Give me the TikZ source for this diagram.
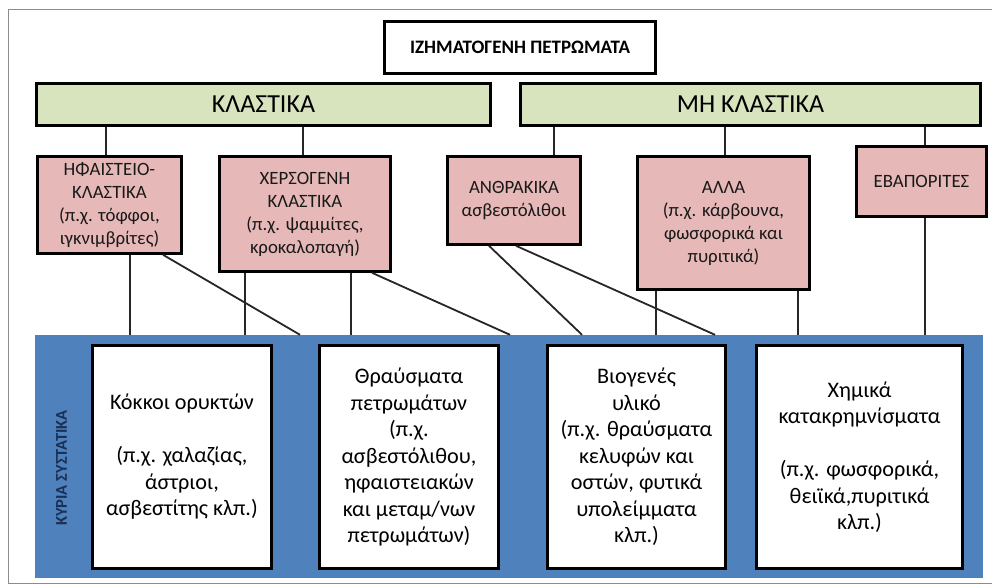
\documentclass[tikz,border=0pt]{standalone}
\usepackage{fontspec}
\setmainfont{Carlito}
\definecolor{pinkfill}{HTML}{E6B9B8}
\definecolor{greenfill}{HTML}{D7E4BD}
\definecolor{bluefill}{HTML}{4F81BD}
\definecolor{navytext}{HTML}{1A2F55}
\definecolor{framegray}{HTML}{8C8C8C}
\tikzset{
  box/.style={draw=black, line width=2.6pt, align=center, inner sep=1pt},
  titlebox/.style={box, fill=white, font=\bfseries\fontsize{19}{23}\selectfont},
  greenbar/.style={box, fill=greenfill, minimum height=42pt, font=\fontsize{26}{30}\selectfont},
  pinkbox/.style={box, fill=pinkfill, text=black!90, font=\fontsize{18.8}{23}\selectfont},
  whitebox/.style={box, fill=white, minimum height=223pt, font=\fontsize{22.2}{26.5}\selectfont},
  bluebox/.style={fill=bluefill, draw=none, inner sep=0pt},
  sidelabel/.style={rotate=90, text=navytext, font=\bfseries\fontsize{16.5}{18}\selectfont},
  conn/.style={draw=black!85, line width=1.8pt},
  frame/.style={draw=framegray, line width=1pt}
}
\begin{document}
\begin{tikzpicture}[x=1pt,y=-1pt]
\useasboundingbox (0,0) rectangle (992,585);
\fill[white] (0,0) rectangle (992,585);
\draw[frame] (992,10) -- (8,10) -- (8,583) -- (992,583);

% top
\node[titlebox, minimum width=271pt, minimum height=52pt] (title) at (520,47.5) {ΙΖΗΜΑΤΟΓΕΝΗ ΠΕΤΡΩΜΑΤΑ};

% green bars
\node[greenbar, minimum width=454pt] (gL) at (263.5,104.5) {ΚΛΑΣΤΙΚΑ};
\node[greenbar, minimum width=460pt] (gR) at (750.5,104.5) {ΜΗ ΚΛΑΣΤΙΚΑ};

% blue band
\node[bluebox, minimum width=948pt, minimum height=243pt] (blue) at (509,456.5) {};
\node[sidelabel] (side) at (61.5,468) {ΚΥΡΙΑ ΣΥΣΤΑΤΙΚΑ};

% pink boxes
\node[pinkbox, minimum width=144pt, minimum height=97pt] (p1) at (109.5,205)
  {ΗΦΑΙΣΤΕΙΟ-\\ΚΛΑΣΤΙΚΑ\\(π.χ. τόφφοι,\\ιγκνιμβρίτες)};
\node[pinkbox, minimum width=171pt, minimum height=115pt] (p2) at (305,214)
  {ΧΕΡΣΟΓΕΝΗ\\ΚΛΑΣΤΙΚΑ\\(π.χ. ψαμμίτες,\\κροκαλοπαγή)};
\node[pinkbox, minimum width=133pt, minimum height=88pt] (p3) at (514,200.5)
  {ΑΝΘΡΑΚΙΚΑ\\ασβεστόλιθοι};
\node[pinkbox, minimum width=172pt, minimum height=133pt] (p4) at (723.5,223)
  {ΑΛΛΑ\\(π.χ. κάρβουνα,\\φωσφορικά και\\πυριτικά)};
\node[pinkbox, minimum width=130pt, minimum height=70pt] (p5) at (921.5,181.5)
  {ΕΒΑΠΟΡΙΤΕΣ};

% white boxes
\node[whitebox, minimum width=179pt] (w1) at (182,457)
  {Κόκκοι ορυκτών\\[26.5pt](π.χ. χαλαζίας,\\άστριοι,\\ασβεστίτης κλπ.)};
\node[whitebox, minimum width=179pt] (w2) at (409,457)
  {Θραύσματα\\πετρωμάτων\\(π.χ.\\ασβεστόλιθου,\\ηφαιστειακών\\και μεταμ/νων\\πετρωμάτων)};
\node[whitebox, minimum width=178pt] (w3) at (636.5,457)
  {Βιογενές\\υλικό\\(π.χ. θραύσματα\\κελυφών και\\οστών, φυτικά\\υπολείμματα\\κλπ.)};
\node[whitebox, minimum width=206pt] (w4) at (859.5,457)
  {Χημικά\\κατακρημνίσματα\\[26.5pt](π.χ. φωσφορικά,\\θειϊκά,πυριτικά\\κλπ.)};

% connectors: green bars to pink boxes
\draw[conn] (gL.south -| 106,0) -- (p1.north -| 106,0);
\draw[conn] (gL.south -| 303,0) -- (p2.north -| 303,0);
\draw[conn] (gR.south -| 554,0) -- (p3.north -| 554,0);
\draw[conn] (gR.south -| 725,0) -- (p4.north -| 725,0);
\draw[conn] (gR.south -| 925,0) -- (p5.north -| 925,0);

% connectors: pink boxes to blue band
\draw[conn] (p1.south -| 130,0) -- (blue.north -| 130,0);
\draw[conn] (p1.south -| 163,0) -- (blue.north -| 300,0);
\draw[conn] (p2.south -| 245,0) -- (blue.north -| 245,0);
\draw[conn] (p2.south -| 351,0) -- (blue.north -| 351,0);
\draw[conn] (p2.south -| 372,0) -- (blue.north -| 510,0);
\draw[conn] (p3.south -| 489,0) -- (blue.north -| 582,0);
\draw[conn] (p3.south -| 516,0) -- (blue.north -| 715,0);
\draw[conn] (p4.south -| 656,0) -- (blue.north -| 656,0);
\draw[conn] (p4.south -| 798,0) -- (blue.north -| 798,0);
\draw[conn] (p5.south -| 925,0) -- (blue.north -| 925,0);
\end{tikzpicture}
\end{document}
